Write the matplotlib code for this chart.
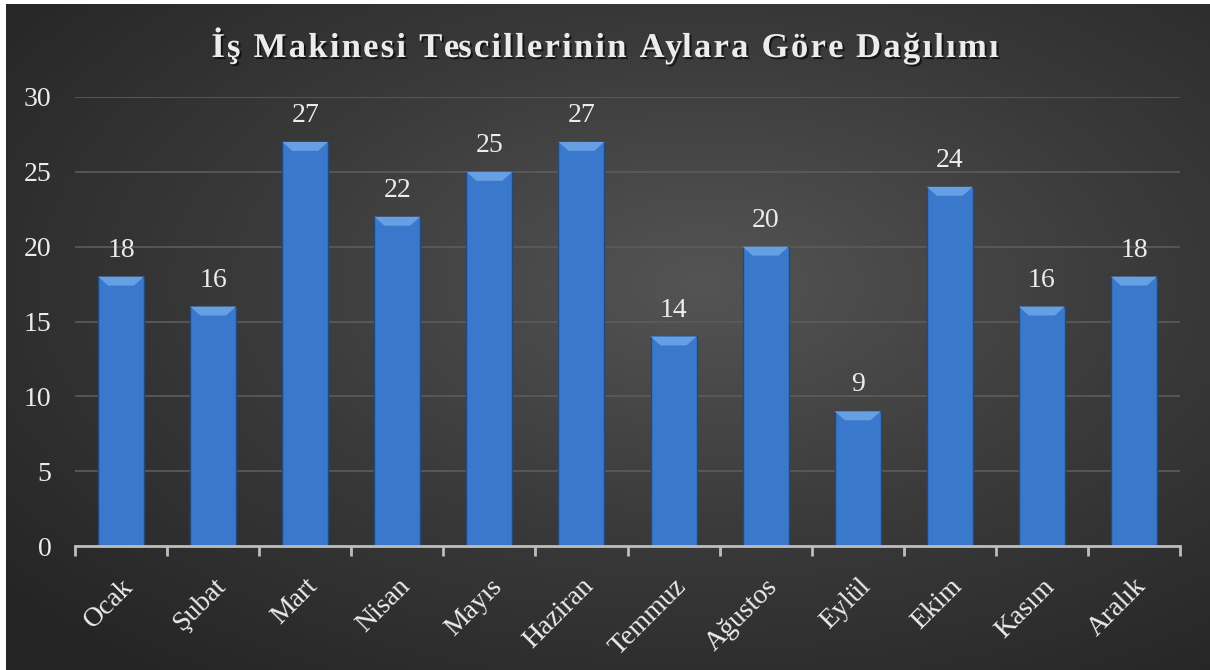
"""İş makinesi tescillerinin aylara göre dağılımı"""

import matplotlib
matplotlib.use("Agg")
import matplotlib.pyplot as plt
import matplotlib.patheffects as pe
import numpy as np
from matplotlib.colors import LinearSegmentedColormap
from matplotlib.font_manager import FontProperties
from matplotlib.patches import Polygon

aylar = ["Ocak", "Şubat", "Mart", "Nisan", "Mayıs", "Haziran",
         "Temmuz", "Ağustos", "Eylül", "Ekim", "Kasım", "Aralık"]
tescil = [18, 16, 27, 22, 25, 27, 14, 20, 9, 24, 16, 18]
y_ticks = [0, 5, 10, 15, 20, 25, 30]
baslik = "İş Makinesi Tescillerinin Aylara Göre Dağılımı"

plt.rcParams["font.family"] = ["Liberation Serif", "DejaVu Serif"]
text_color = "#ececec"

fig = plt.figure(figsize=(12.1, 6.7), dpi=100, facecolor="white")

# arka plan: radyal gradyan
bg = fig.add_axes([6 / 1210, 0, 1 - 6 / 1210, 1 - 4 / 670])
bg.set_axis_off()
yy, xx = np.mgrid[0:1:300j, 0:1:540j]
r = np.sqrt(((xx - 0.58) / 0.75) ** 2 + ((yy - 0.42) / 0.75) ** 2)
cmap = LinearSegmentedColormap.from_list("bg", ["#545454", "#3a3a3a", "#252525"])
bg.imshow(np.clip(r, 0, 1), cmap=cmap, aspect="auto", extent=[0, 1, 1, 0],
          vmin=0, vmax=1)

ax = fig.add_axes([75 / 1210, 1 - 546 / 670, 1105 / 1210, 449 / 670])
ax.patch.set_alpha(0)
x = np.arange(len(aylar))
w = 0.5
ax.bar(x, tescil, width=w, color="#3a78cc", edgecolor="#21497f", linewidth=1, zorder=3)

# üst bevel efekti
dx, dy = 0.11, 0.6
for xi, v in zip(x, tescil):
    top = Polygon([(xi - w / 2, v), (xi + w / 2, v), (xi + w / 2 - dx, v - dy),
                   (xi - w / 2 + dx, v - dy)], closed=True,
                  facecolor="#679fe4", edgecolor="none", zorder=4)
    ax.add_patch(top)
    ax.annotate(str(v), (xi, v), xytext=(0, 10), textcoords="offset points",
                ha="center", va="bottom", fontsize=20, color=text_color)

ax.set_xlim(-0.5, len(aylar) - 0.5)
ax.set_ylim(0, 30)
ax.set_yticks(y_ticks)
ax.yaxis.grid(True, color="#5c5c5c", linewidth=1.2, zorder=0)
ax.set_axisbelow(True)
for s in ["top", "right", "left"]:
    ax.spines[s].set_visible(False)
ax.spines["bottom"].set_color("#bdbdbd")
ax.spines["bottom"].set_linewidth(2)
ax.spines["bottom"].set_zorder(5)

ax.set_xticks(x)
ax.set_xticklabels(aylar, rotation=45, ha="right", rotation_mode="anchor",
                   fontsize=20, color=text_color)
ax.set_xticks(np.arange(-0.5, len(aylar)), minor=True)
ax.tick_params(axis="x", which="major", length=0, pad=20)
ax.tick_params(axis="x", which="minor", length=7, width=2, color="#bdbdbd")
ax.tick_params(axis="y", length=0, pad=17, labelsize=20, labelcolor=text_color)

# başlık: harf aralıklı, gölgeli
fig.canvas.draw()
renderer = fig.canvas.get_renderer()
spacing = 2.2  # piksel
prop = FontProperties(family=["Liberation Serif"], weight="bold", size=25)


def genislik(s):
    w_, _, _ = renderer.get_text_width_height_descent(s + "l", prop, ismath=False)
    wl, _, _ = renderer.get_text_width_height_descent("l", prop, ismath=False)
    return w_ - wl


toplam = genislik(baslik) + spacing * (len(baslik) - 1)
x0 = 605 - toplam / 2
baseline = 670 - 57
shadow = [pe.withSimplePatchShadow(offset=(1.5, -1.5), shadow_rgbFace="black", alpha=0.6)]
for i, ch in enumerate(baslik):
    px = x0 + genislik(baslik[:i]) + spacing * i
    fig.text(px / 1210, baseline / 670, ch, fontproperties=prop, color=text_color,
             ha="left", va="baseline", path_effects=shadow)

fig.savefig("out.png", dpi=100)
